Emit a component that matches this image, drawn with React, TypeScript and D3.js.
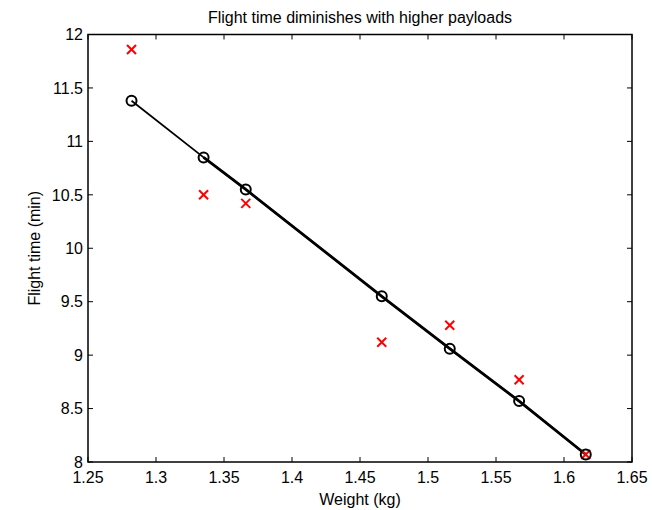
import React from "react";
import * as d3 from "d3";

const weights = [1.282, 1.335, 1.366, 1.466, 1.516, 1.567, 1.616];
const measured = [11.86, 10.5, 10.42, 9.12, 9.28, 8.77, 8.07];
const predicted = [11.38, 10.85, 10.55, 9.55, 9.06, 8.57, 8.07];
const xTicks = [1.25, 1.3, 1.35, 1.4, 1.45, 1.5, 1.55, 1.6, 1.65];
const yTicks = [8, 8.5, 9, 9.5, 10, 10.5, 11, 11.5, 12];

const W = 652, H = 510;
const L = 88, R = 632, T = 34.5, B = 462;
const FONT = "'Liberation Sans', Arial, sans-serif";
const FS = 16;

export default function App() {
  const x = d3.scaleLinear().domain([1.25, 1.65]).range([L, R]);
  const y = d3.scaleLinear().domain([8, 12]).range([B, T]);
  const pts = weights.map((w, i) => ({ w, m: measured[i], p: predicted[i] }));
  const line = d3.line<{ w: number; p: number }>().x(d => x(d.w)).y(d => y(d.p));
  const fmt = (v: number) => String(+v.toFixed(2));
  return (
    <svg width={W} height={H} style={{ position: "absolute", left: 0, top: 0, background: "#fff" }}
      fontFamily={FONT}>
      <rect x={0} y={0} width={W} height={H} fill="#fff" />
      <rect x={L} y={T} width={R - L} height={B - T} fill="#fff" stroke="#000" strokeWidth={1.5} />
      {xTicks.map(t => (
        <g key={"x" + t}>
          <line x1={x(t)} x2={x(t)} y1={B} y2={B - 5} stroke="#000" />
          <line x1={x(t)} x2={x(t)} y1={T} y2={T + 5} stroke="#000" />
          <text x={x(t)} y={483} fontSize={FS} textAnchor="middle">{fmt(t)}</text>
        </g>
      ))}
      {yTicks.map(t => (
        <g key={"y" + t}>
          <line x1={L} x2={L + 5} y1={y(t)} y2={y(t)} stroke="#000" />
          <line x1={R} x2={R - 5} y1={y(t)} y2={y(t)} stroke="#000" />
          <text x={83} y={y(t) + 5.7} fontSize={FS} textAnchor="end">{fmt(t)}</text>
        </g>
      ))}
      <path d={line(pts) || ""} fill="none" stroke="#000" strokeWidth={1.8} />
      <path d={line(pts.slice(1)) || ""} fill="none" stroke="#000" strokeWidth={2.8} />
      {pts.map((d, i) => (
        <g key={"m" + i} stroke="#f00" strokeWidth={2}>
          <line x1={x(d.w) - 4.5} x2={x(d.w) + 4.5} y1={y(d.m) - 4.5} y2={y(d.m) + 4.5} />
          <line x1={x(d.w) - 4.5} x2={x(d.w) + 4.5} y1={y(d.m) + 4.5} y2={y(d.m) - 4.5} />
        </g>
      ))}
      {pts.map((d, i) => (
        <circle key={"c" + i} cx={x(d.w)} cy={y(d.p)} r={5} fill="none" stroke="#000" strokeWidth={2} />
      ))}
      <text x={(L + R) / 2} y={23} fontSize={FS} textAnchor="middle">Flight time diminishes with higher payloads</text>
      <text x={(L + R) / 2} y={505} fontSize={FS} textAnchor="middle">Weight (kg)</text>
      <text transform={`translate(40, ${(T + B) / 2}) rotate(-90)`} fontSize={FS} textAnchor="middle">Flight time (min)</text>
    </svg>
  );
}
